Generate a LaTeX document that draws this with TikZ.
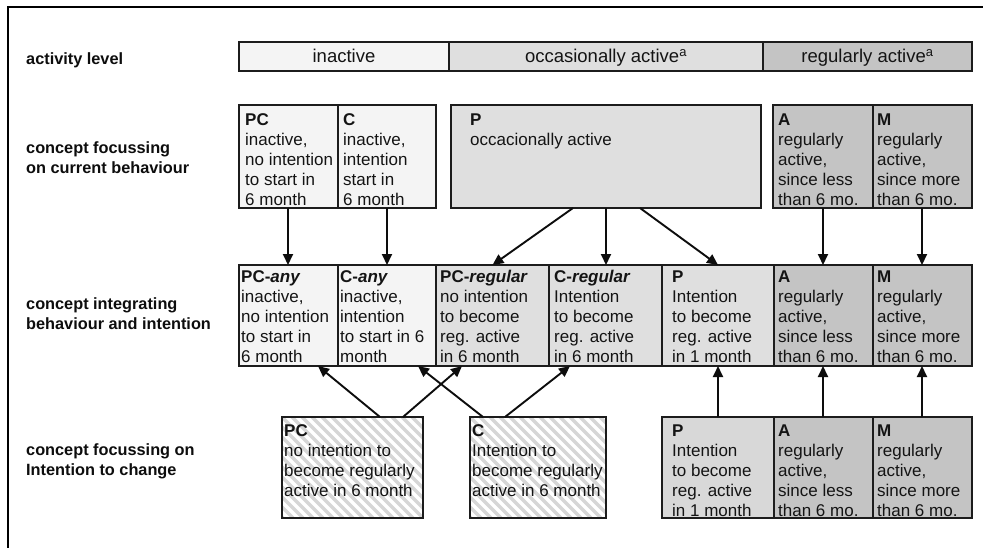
\documentclass[tikz,border=0pt]{standalone}
\usepackage{fontspec}
\setmainfont{Liberation Sans}
\usetikzlibrary{arrows.meta}
\definecolor{cIn}{HTML}{F4F4F4}
\definecolor{cOcc}{HTML}{DFDFDF}
\definecolor{cReg}{HTML}{C4C4C4}
\definecolor{cPfour}{HTML}{D8D8D8}
\definecolor{cStripe}{HTML}{D6D6D6}
\definecolor{cLine}{HTML}{1C1C1C}
\begin{document}
\begin{tikzpicture}[x=1pt,y=-1pt,
 box/.style={draw=cLine,line width=1.8pt,anchor=north west,inner sep=0pt,outer sep=0pt},
 txt/.style={anchor=north west,inner sep=0pt,align=left,text=black!92,font=\fontsize{17}{20}\selectfont},
 bartxt/.style={anchor=base,inner sep=0pt,text=black!92,font=\fontsize{18.5}{22}\selectfont},
 lab/.style={anchor=north west,inner sep=0pt,align=left,text=black!95,font=\bfseries\fontsize{16.3}{20}\selectfont},
 arr/.style={line width=1.9pt,draw=black!95,-{Triangle[length=11pt,width=10pt]}},
 stripe/.style={draw=cStripe,line width=3.4pt}]

\useasboundingbox (0,0) rectangle (983,547);
\fill[white] (0,0) rectangle (983,547);
\draw[line width=2.4pt,line cap=rect] (8,547) -- (8,7) -- (983,7);

% left labels
\node[lab] (l1) at (26,49) {\rule{0pt}{15pt}activity level};
\node[lab] (l2) at (26,138) {\rule{0pt}{15pt}concept focussing\\on current behaviour};
\node[lab] (l3) at (26,294) {\rule{0pt}{15pt}concept integrating\\behaviour and intention};
\node[lab] (l4) at (26,440) {\rule{0pt}{15pt}concept focussing on\\Intention to change};

% activity bar
\node[box,fill=cIn,minimum width=210pt,minimum height=29pt] (barin) at (239,42) {};
\node[box,fill=cOcc,minimum width=314pt,minimum height=29pt] (barocc) at (449,42) {};
\node[box,fill=cReg,minimum width=209pt,minimum height=29pt] (barreg) at (763,42) {};
\node[bartxt] (barint) at ([yshift=-6pt]barin.center) {inactive};
\node[bartxt] (barocct) at ([yshift=-6pt]barocc.center) {occasionally active\textsuperscript{a}};
\node[bartxt] (barregt) at ([yshift=-6pt]barreg.center) {regularly active\textsuperscript{a}};

% row 2
\node[box,fill=cIn,minimum width=99pt,minimum height=103pt] (pc2) at (239,105) {};
\node[box,fill=cIn,minimum width=98pt,minimum height=103pt] (c2) at (338,105) {};
\node[box,fill=cOcc,minimum width=310pt,minimum height=103pt] (p2) at (451,105) {};
\node[box,fill=cReg,minimum width=100pt,minimum height=103pt] (a2) at (773,105) {};
\node[box,fill=cReg,minimum width=99pt,minimum height=103pt] (m2) at (873,105) {};
\node[txt] (pc2t) at (245,110) {\rule{0pt}{15pt}\textbf{PC}\\inactive,\\no intention\\to start in\\6 month};
\node[txt] (c2t) at (343,110) {\rule{0pt}{15pt}\textbf{C}\\inactive,\\intention\\start in\\6 month};
\node[txt] (p2t) at (470,110) {\rule{0pt}{15pt}\textbf{P}\\occacionally active};
\node[txt] (a2t) at (778,110) {\rule{0pt}{15pt}\textbf{A}\\regularly\\active,\\since less\\than 6 mo.};
\node[txt] (m2t) at (877,110) {\rule{0pt}{15pt}\textbf{M}\\regularly\\active,\\since more\\than 6 mo.};

% row 3
\node[box,fill=cIn,minimum width=99pt,minimum height=101pt] (pcany) at (239,265) {};
\node[box,fill=cIn,minimum width=98pt,minimum height=101pt] (cany) at (338,265) {};
\node[box,fill=cOcc,minimum width=113pt,minimum height=101pt] (pcreg) at (436,265) {};
\node[box,fill=cOcc,minimum width=113pt,minimum height=101pt] (creg) at (549,265) {};
\node[box,fill=cOcc,minimum width=112pt,minimum height=101pt] (p3) at (662,265) {};
\node[box,fill=cReg,minimum width=99pt,minimum height=101pt] (a3) at (774,265) {};
\node[box,fill=cReg,minimum width=99pt,minimum height=101pt] (m3) at (873,265) {};
\node[txt] (pcanyt) at (241,267.5) {\rule{0pt}{15pt}\textbf{PC-\textit{any}}\\inactive,\\no intention\\to start in\\6 month};
\node[txt] (canyt) at (340,267.5) {\rule{0pt}{15pt}\textbf{C-\textit{any}}\\inactive,\\intention\\to start in 6\\month};
\node[txt] (pcregt) at (440,267.5) {\rule{0pt}{15pt}\textbf{PC-\textit{regular}}\\no intention\\to become\\reg. active\\in 6 month};
\node[txt] (cregt) at (554,267.5) {\rule{0pt}{15pt}\textbf{C-\textit{regular}}\\Intention\\to become\\reg. active\\in 6 month};
\node[txt] (p3t) at (672,267.5) {\rule{0pt}{15pt}\textbf{P}\\Intention\\to become\\reg. active\\in 1 month};
\node[txt] (a3t) at (778,267.5) {\rule{0pt}{15pt}\textbf{A}\\regularly\\active,\\since less\\than 6 mo.};
\node[txt] (m3t) at (877,267.5) {\rule{0pt}{15pt}\textbf{M}\\regularly\\active,\\since more\\than 6 mo.};

% row 4 hatched
\fill[white] (282,417) rectangle (423,518);
\begin{scope}
\clip (282,417) rectangle (423,518);
\foreach \i in {-110,-100,...,150} \draw[stripe] (282+\i,417) -- ++(101,101);
\end{scope}
\fill[white] (470,417) rectangle (606,518);
\begin{scope}
\clip (470,417) rectangle (606,518);
\foreach \i in {-110,-100,...,150} \draw[stripe] (470+\i,417) -- ++(101,101);
\end{scope}
\node[box,minimum width=141pt,minimum height=101pt] (pch) at (282,417) {};
\node[box,minimum width=136pt,minimum height=101pt] (ch) at (470,417) {};
\node[box,fill=cPfour,minimum width=112pt,minimum height=101pt] (p4) at (662,417) {};
\node[box,fill=cReg,minimum width=99pt,minimum height=101pt] (a4) at (774,417) {};
\node[box,fill=cReg,minimum width=99pt,minimum height=101pt] (m4) at (873,417) {};
\node[txt] (pcht) at (284,421.5) {\rule{0pt}{15pt}\textbf{PC}\\no intention to\\become regularly\\active in 6 month};
\node[txt] (cht) at (472,421.5) {\rule{0pt}{15pt}\textbf{C}\\Intention to\\become regularly\\active in 6 month};
\node[txt] (p4t) at (672,421.5) {\rule{0pt}{15pt}\textbf{P}\\Intention\\to become\\reg. active\\in 1 month};
\node[txt] (a4t) at (778,421.5) {\rule{0pt}{15pt}\textbf{A}\\regularly\\active,\\since less\\than 6 mo.};
\node[txt] (m4t) at (877,421.5) {\rule{0pt}{15pt}\textbf{M}\\regularly\\active,\\since more\\than 6 mo.};

% arrows row 2 -> row 3
\draw[arr] ([xshift=-0.5pt]pc2.south) -- ([xshift=-0.5pt]pcany.north);
\draw[arr] (c2.south) -- (cany.north);
\draw[arr] ([xshift=-33pt]p2.south) -- (pcreg.north);
\draw[arr] (p2.south) -- ([xshift=0.5pt]creg.north);
\draw[arr] ([xshift=34pt]p2.south) -- (p3.north);
\draw[arr] (a2.south) -- ([xshift=-0.5pt]a3.north);
\draw[arr] ([xshift=-0.5pt]m2.south) -- ([xshift=-0.5pt]m3.north);

% arrows row 4 -> row 3
\draw[arr] ([xshift=27.5pt]pch.north) -- ([xshift=29.5pt]pcany.south);
\draw[arr] ([xshift=50.5pt]pch.north) -- ([xshift=-30.5pt]pcreg.south);
\draw[arr] ([xshift=-55pt]ch.north) -- ([xshift=31pt]cany.south);
\draw[arr] ([xshift=-33pt]ch.north) -- ([xshift=-35.5pt]creg.south);
\draw[arr] (p4.north) -- (p3.south);
\draw[arr] ([xshift=-0.5pt]a4.north) -- ([xshift=-0.5pt]a3.south);
\draw[arr] ([xshift=-0.5pt]m4.north) -- ([xshift=-0.5pt]m3.south);
\end{tikzpicture}
\end{document}
